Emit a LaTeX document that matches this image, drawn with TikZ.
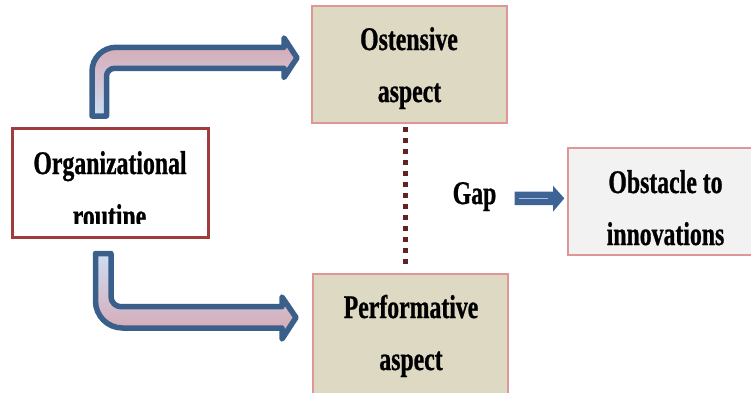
\documentclass[tikz,border=0pt]{standalone}
\usepackage{fontspec}
\setmainfont{Liberation Serif}[FakeStretch=0.72,BoldFeatures={FakeBold=0.8}]
\begin{document}
\begin{tikzpicture}[x=1pt,y=-1pt,
  tanbox/.style={draw=boxpink,line width=1.8pt,fill=tanfill,minimum width=195pt,minimum height=117pt,inner sep=0pt},
  greybox/.style={draw=boxpink,line width=1.8pt,fill=greyfill,minimum width=200pt,minimum height=107pt,inner sep=0pt},
  orgbox/.style={draw=orgred,line width=3pt,fill=white,minimum width=196pt,minimum height=109pt,inner sep=0pt},
  lbl/.style={font=\fontsize{33}{33}\selectfont\bfseries,inner sep=0pt,anchor=base},
  blockarrow/.style={draw=arrowblue,line width=5.5pt,line join=round},
  dotline/.style={draw=dotred,line width=5pt,dash pattern=on 5pt off 6pt}
]
\definecolor{tanfill}{RGB}{221,217,195}
\definecolor{greyfill}{RGB}{242,242,242}
\definecolor{boxpink}{RGB}{222,150,150}
\definecolor{orgred}{RGB}{160,60,60}
\definecolor{arrowblue}{RGB}{58,95,139}
\definecolor{gapblue}{RGB}{62,100,150}
\definecolor{gaplight}{RGB}{170,190,225}
\definecolor{dotred}{RGB}{100,35,35}
\definecolor{apink}{RGB}{214,166,176}
\definecolor{ablue}{RGB}{206,221,243}
\useasboundingbox (0,0) rectangle (751,392);

% boxes
\node[orgbox] (org) at (110,182.5) {};
\node[tanbox] (ost) at (409.5,64.5) {};
\node[tanbox,minimum height=130pt] (perf) at (410.5,339) {};
\node[greybox] (obs) at (668,201.5) {};

% texts
\node[lbl] (orgA) at (110,174) {Organizational};
\begin{scope}
  \clip (0,0) rectangle (751,223.5);
  \node[lbl] (orgB) at (109.5,227) {routine};
\end{scope}
\node[lbl] (ostA) at (409,50) {Ostensive};
\node[lbl] (ostB) at (409.5,102) {aspect};
\node[lbl] (perfA) at (411,318) {Performative};
\node[lbl] (perfB) at (411,370) {aspect};
\node[lbl] (gap) at (474.5,204) {Gap};
\node[lbl] (obsA) at (665.5,193) {Obstacle to};
\node[lbl] (obsB) at (665.5,245) {innovations};

% top bent arrow
\path[blockarrow,top color=apink,bottom color=ablue]
  (92,116) -- (92,71.3) .. controls (92,58.05) and (102.75,47.3) .. (116,47.3)
  -- (284,47.3) -- (284,38) -- (297,57.8) -- (284,77.5) -- (284,68.3)
  -- (114.5,68.3) .. controls (110.1,68.3) and (106.5,71.9) .. (106.5,76.3)
  -- (106.5,116) -- cycle;

% bottom bent arrow
\path[blockarrow,top color=ablue,bottom color=apink]
  (95.5,253.5) -- (95.5,301) .. controls (95.5,315.9) and (107.6,328) .. (122.5,328)
  -- (282,328) -- (282,339) -- (296,317.5) -- (282,297) -- (282,306.7)
  -- (121,306.7) .. controls (115.5,306.7) and (111,302.2) .. (111,296.7)
  -- (111,253.5) -- cycle;

% dotted gap line
\coordinate (dtop) at (405.7,127);
\coordinate (dbot) at (405.7,265);
\draw[dotline] (dtop) -- (dbot);

% gap arrow
\fill[gapblue] (514.7,191.7) -- (553,191.7) -- (553,185.7) -- (564.3,198.3)
  -- (553,211.7) -- (553,205) -- (514.7,205) -- cycle;
\draw[gaplight,line width=1.5pt] (519,198.3) -- (548,198.3);
\end{tikzpicture}
\end{document}
